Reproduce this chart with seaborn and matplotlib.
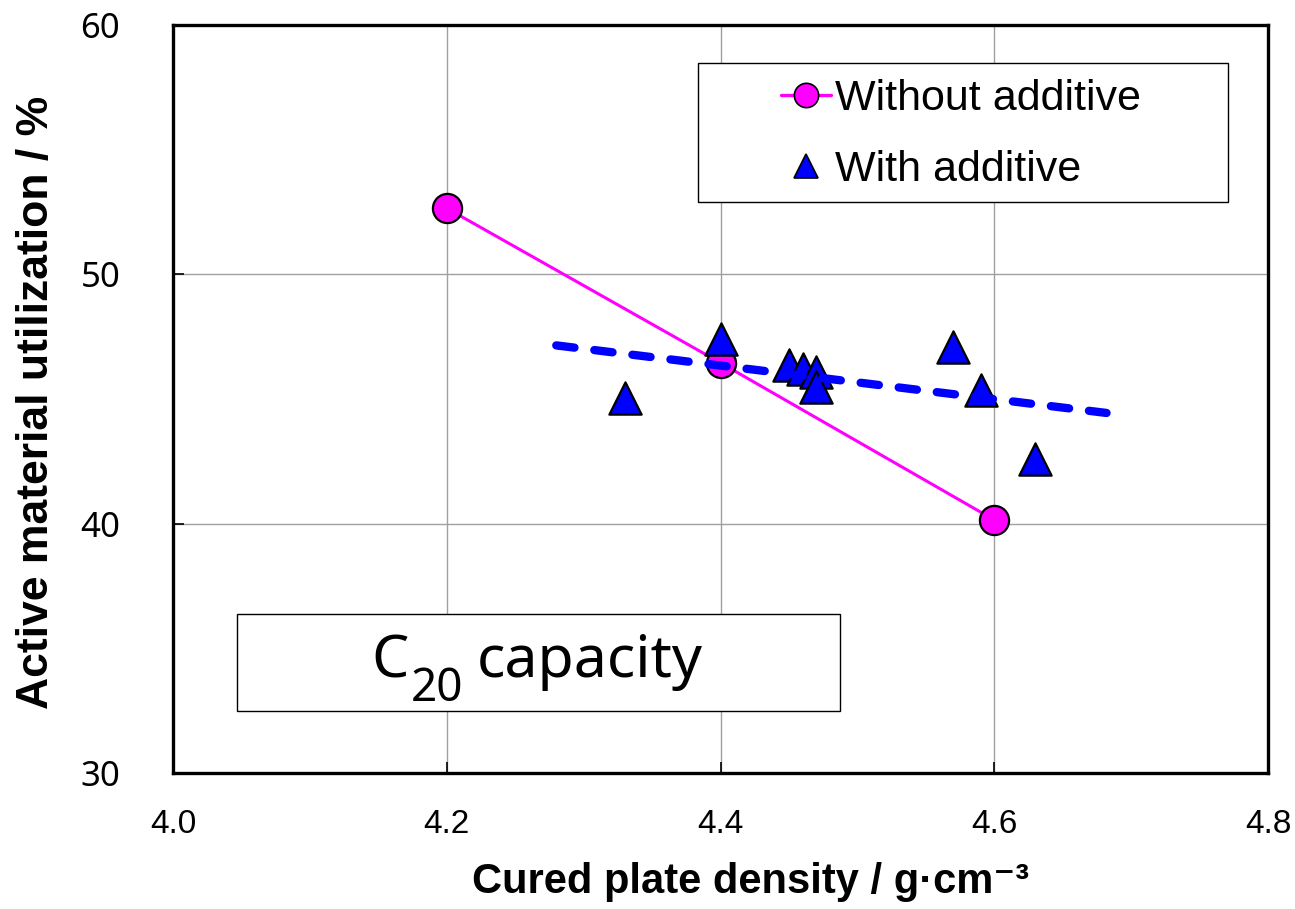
import matplotlib
matplotlib.use("Agg")
import matplotlib.pyplot as plt
import seaborn as sns
from matplotlib.lines import Line2D
from matplotlib.patches import Rectangle

# Cured plate density (g/cm3) vs. active material utilization (%)
density_without = [4.2, 4.4, 4.6]
util_without = [52.65, 46.45, 40.15]

density_with = [4.33, 4.40, 4.45, 4.46, 4.47, 4.47, 4.57, 4.59, 4.63]
util_with = [45.05, 47.4, 46.35, 46.2, 46.1, 45.5, 47.1, 45.35, 42.6]

# linear trend for the "with additive" series
trend_x = [4.28, 4.682]
trend_y = [47.15, 44.44]

x_ticks = [4.0, 4.2, 4.4, 4.6, 4.8]
x_tick_labels = ["4.0", "4.2", "4.4", "4.6", "4.8"]
y_ticks = [30, 40, 50, 60]
y_tick_labels = ["30", "40", "50", "60"]

series_labels = ["Without additive", "With additive"]

sns.set_theme(style="whitegrid")
plt.rcParams["font.family"] = ["Liberation Sans", "DejaVu Sans"]
plt.rcParams["text.color"] = "black"
plt.rcParams["axes.labelcolor"] = "black"
plt.rcParams["xtick.color"] = "black"
plt.rcParams["ytick.color"] = "black"

MAGENTA = "#FF00FF"
BLUE = "#0000FF"
SANS = ["Liberation Sans", "DejaVu Sans"]
NOTO = ["Noto Sans", "DejaVu Sans"]

fig = plt.figure(figsize=(12.95, 9.09), dpi=100)
ax = fig.add_axes([0.1336, 0.1496, 0.8456, 0.8229])
ax.set_facecolor("white")

sns.lineplot(x=density_without, y=util_without, ax=ax, color=MAGENTA,
             linewidth=2.2, marker="o", markersize=21,
             markerfacecolor=MAGENTA, markeredgecolor="black",
             markeredgewidth=1.6, zorder=3)

sns.scatterplot(x=density_with, y=util_with, ax=ax, marker="^", s=540,
                color=BLUE, edgecolor="black", linewidth=1.6, zorder=4)

sns.lineplot(x=trend_x, y=trend_y, ax=ax, color=BLUE, linewidth=6, zorder=5)
trend_line = ax.lines[-1]
trend_line.set_dashes([2.2, 2.4])
trend_line.set_dash_capstyle("round")

ax.set_xlim(4.0, 4.8)
ax.set_ylim(30, 60)
ax.set_xticks(x_ticks)
ax.set_xticklabels(x_tick_labels, fontsize=24, family=SANS)
ax.set_yticks(y_ticks)
ax.set_yticklabels(y_tick_labels, fontsize=25, family=NOTO)
ax.tick_params(axis="x", direction="in", length=8, width=1.2, colors="black",
               pad=26, bottom=True, top=False)
ax.tick_params(axis="y", direction="in", length=8, width=1.2, colors="black",
               pad=38, left=True, right=False)

ax.grid(True, color="#a0a0a0", linewidth=1.0)
for side in ["left", "right", "top", "bottom"]:
    ax.spines[side].set_visible(True)
    ax.spines[side].set_color("black")
    ax.spines[side].set_linewidth(2.4)

ax.set_xlabel("Cured plate density / g\u00b7cm\u207b\u00b3", fontsize=30,
              fontweight="bold", family=SANS)
ax.set_ylabel("Active material utilization / %", fontsize=32,
              fontweight="bold", family=SANS)
ax.xaxis.set_label_coords(0.527, -0.119)
ax.yaxis.set_label_coords(-0.106, 0.496)

# legend frame and entries
ax.add_patch(Rectangle((0.479, 0.763), 0.484, 0.186, transform=ax.transAxes,
                       facecolor="white", edgecolor="black", linewidth=1.0,
                       zorder=6))
handles = [
    Line2D([], [], color=MAGENTA, linewidth=2.4, marker="o", markersize=17.5,
           markerfacecolor=MAGENTA, markeredgecolor="black",
           markeredgewidth=1.2),
    Line2D([], [], linestyle="none", marker="^", markersize=17.5,
           markerfacecolor=BLUE, markeredgecolor="black",
           markeredgewidth=1.2),
]
leg = ax.legend(handles, series_labels, loc="upper left",
                bbox_to_anchor=(0.555, 0.928), frameon=False,
                handlelength=1.16, handletextpad=0.10, labelspacing=0.72,
                borderpad=0, borderaxespad=0, prop={"family": SANS, "size": 31})
leg.set_zorder(7)

# annotation box with "C20 capacity"
ax.add_patch(Rectangle((0.0584, 0.0829), 0.5506, 0.1297,
                       transform=ax.transAxes, facecolor="white",
                       edgecolor="black", linewidth=1.0, zorder=6))
ax.text(0.1815, 0.1283, "C", transform=ax.transAxes, ha="left",
        va="baseline", fontsize=42.5, family=NOTO, zorder=7)
ax.text(0.2170, 0.0960, "20", transform=ax.transAxes, ha="left",
        va="baseline", fontsize=33, family=NOTO, zorder=7)
ax.text(0.2775, 0.1283, "capacity", transform=ax.transAxes, ha="left",
        va="baseline", fontsize=42.5, family=NOTO, zorder=7)

fig.savefig("out.png", dpi=100)
